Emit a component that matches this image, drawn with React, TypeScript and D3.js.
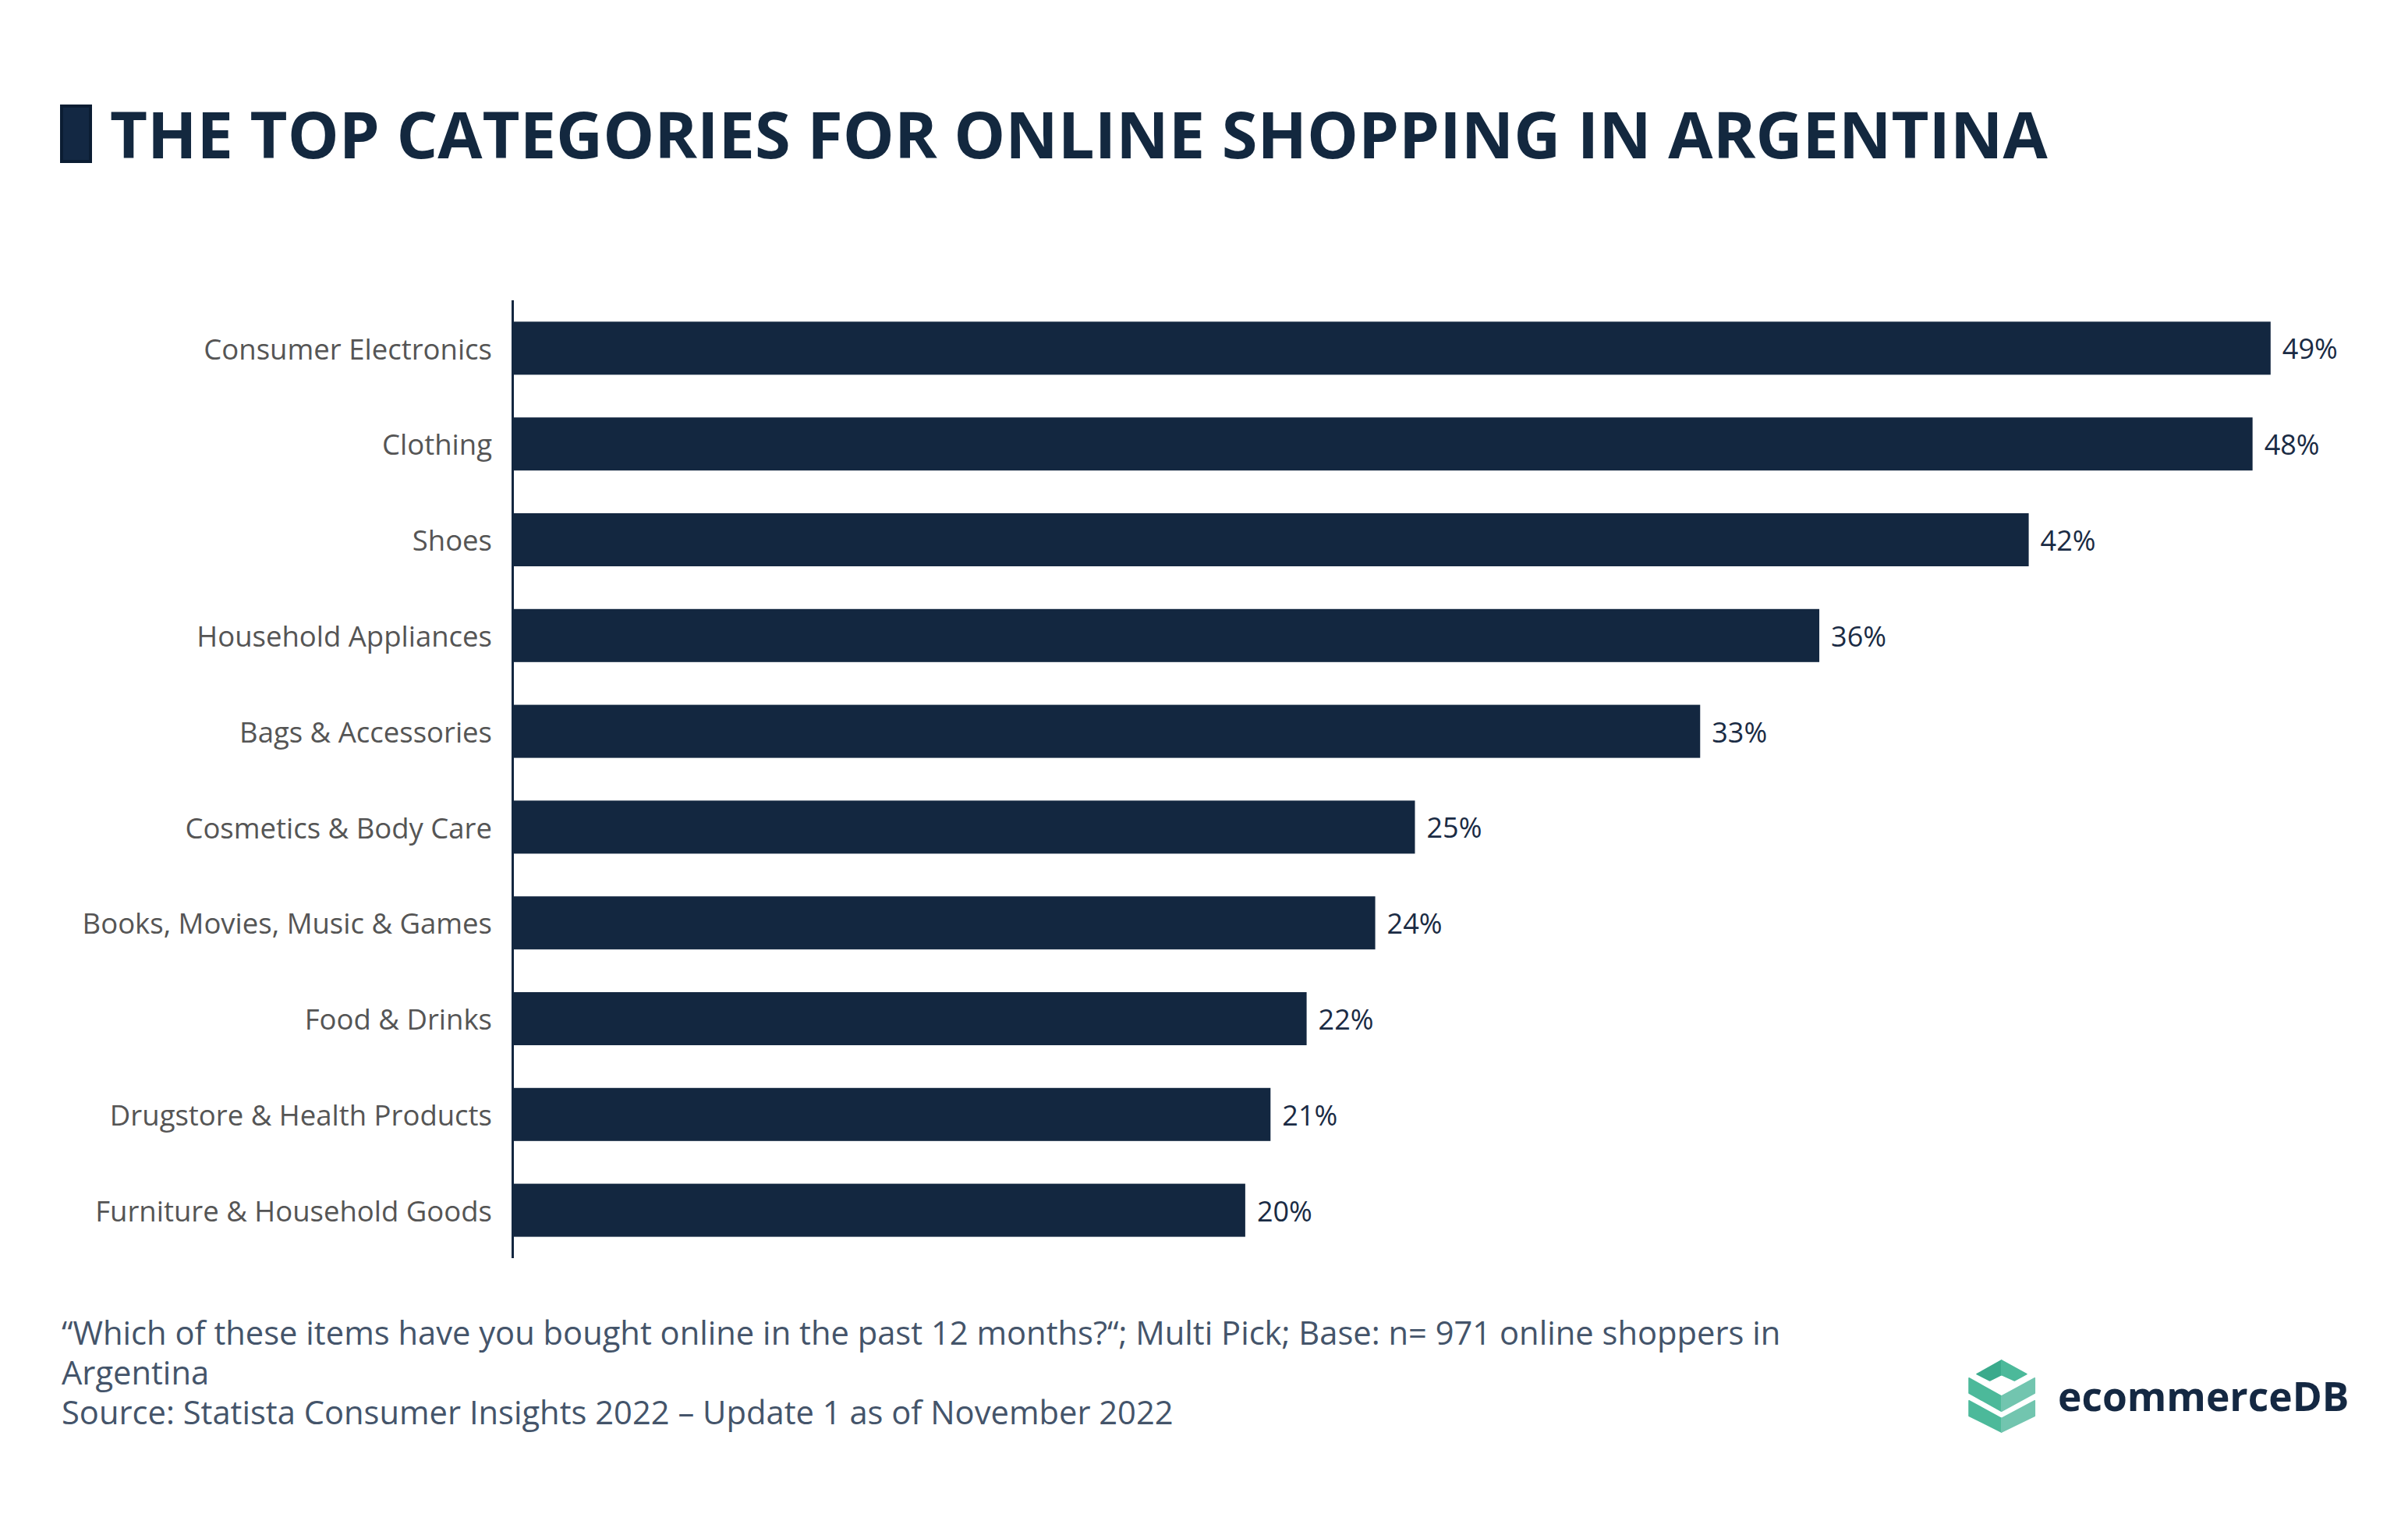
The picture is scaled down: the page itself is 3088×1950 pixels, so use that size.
import React from "react";
import * as d3 from "d3";

const categories = [
  "Consumer Electronics",
  "Clothing",
  "Shoes",
  "Household Appliances",
  "Bags & Accessories",
  "Cosmetics & Body Care",
  "Books, Movies, Music & Games",
  "Food & Drinks",
  "Drugstore & Health Products",
  "Furniture & Household Goods",
];
const shares = [48.7, 48.2, 42.0, 36.2, 32.9, 25.0, 23.9, 22.0, 21.0, 20.3];

const titleText = "THE TOP CATEGORIES FOR ONLINE SHOPPING IN ARGENTINA";
const footnoteLines = [
  "\u201CWhich of these items have you bought online in the past 12 months?\u201C; Multi Pick; Base: n= 971 online shoppers in",
  "Argentina",
  "Source: Statista Consumer Insights 2022 \u2013 Update 1 as of November 2022",
];
const brandName = "ecommerceDB";

const W = 3088;
const H = 1950;
const NAVY = "#132740";
const FONT = "'Open Sans', 'Noto Sans', sans-serif";

export default function App() {
  const x = d3.scaleLinear().domain([0, 50]).range([657, 657 + 46.3 * 50]);
  const y = d3
    .scaleBand<string>()
    .domain(categories)
    .range([385, 1613])
    .paddingInner(0.446)
    .paddingOuter(0.223);
  const fmt = (v: number) => d3.format(".0f")(v) + "%";

  // logo icon polygons in local coords (zoom px / 3)
  const P = (pts: number[][]) => pts.map(([a, b]) => `${a / 3},${b / 3}`).join(" ");
  const icon = [
    { pts: [[105, 95], [200, 42], [200, 98], [155, 120]], fill: "#3aaa8c" },
    { pts: [[200, 42], [297, 95], [250, 120], [200, 98]], fill: "#4cb99a" },
    { pts: [[75, 110], [200, 180], [200, 238], [75, 168]], fill: "#4cb99a" },
    { pts: [[200, 180], [328, 110], [328, 168], [200, 238]], fill: "#72c5af" },
    { pts: [[75, 197], [200, 265], [200, 318], [75, 256]], fill: "#4cb99a" },
    { pts: [[200, 265], [328, 197], [328, 256], [200, 318]], fill: "#72c5af" },
  ];

  return (
    <svg
      width={W}
      height={H}
      viewBox={`0 0 ${W} ${H}`}
      style={{ position: "absolute", left: 0, top: 0, background: "#fff" }}
      fontFamily={FONT}
    >
      <rect x={0} y={0} width={W} height={H} fill="#ffffff" />
      {/* title */}
      <rect x={79} y={136} width={37} height={71} fill="#132843" stroke="#0b1d33" strokeWidth={4} />
      <text x={141} y={203} fontSize={83} fontWeight={700} fill="#13283f">
        {titleText}
      </text>

      {/* bars */}
      {categories.map((c, i) => (
        <g key={c}>
          <rect
            x={x(0)}
            y={y(c)!}
            width={x(shares[i]) - x(0)}
            height={y.bandwidth()}
            fill={NAVY}
          />
          <text
            x={631}
            y={y(c)! + y.bandwidth() / 2}
            dy="0.39em"
            textAnchor="end"
            fontSize={36.5}
            fill="#555555"
          >
            {c}
          </text>
          <text
            x={x(shares[i]) + 15}
            y={y(c)! + y.bandwidth() / 2}
            dy="0.39em"
            fontSize={36}
            fill="#1a2b44"
          >
            {fmt(shares[i])}
          </text>
        </g>
      ))}
      {/* axis line */}
      <line x1={657.5} x2={657.5} y1={385} y2={1613} stroke={NAVY} strokeWidth={3} />

      {/* footnote */}
      {footnoteLines.map((l, i) => (
        <text key={i} x={79} y={1724 + i * 51} fontSize={41.7} fill="#44546a">
          {l}
        </text>
      ))}

      {/* logo */}
      <g transform="translate(2500,1730)">
        {icon.map((p, i) => (
          <polygon key={i} points={P(p.pts)} fill={p.fill} stroke={p.fill} strokeWidth={1.5} strokeLinejoin="round" />
        ))}
      </g>
      <text x={2639} y={1809} fontSize={51.5} fontWeight={700} fill="#142842">
        {brandName}
      </text>
    </svg>
  );
}
